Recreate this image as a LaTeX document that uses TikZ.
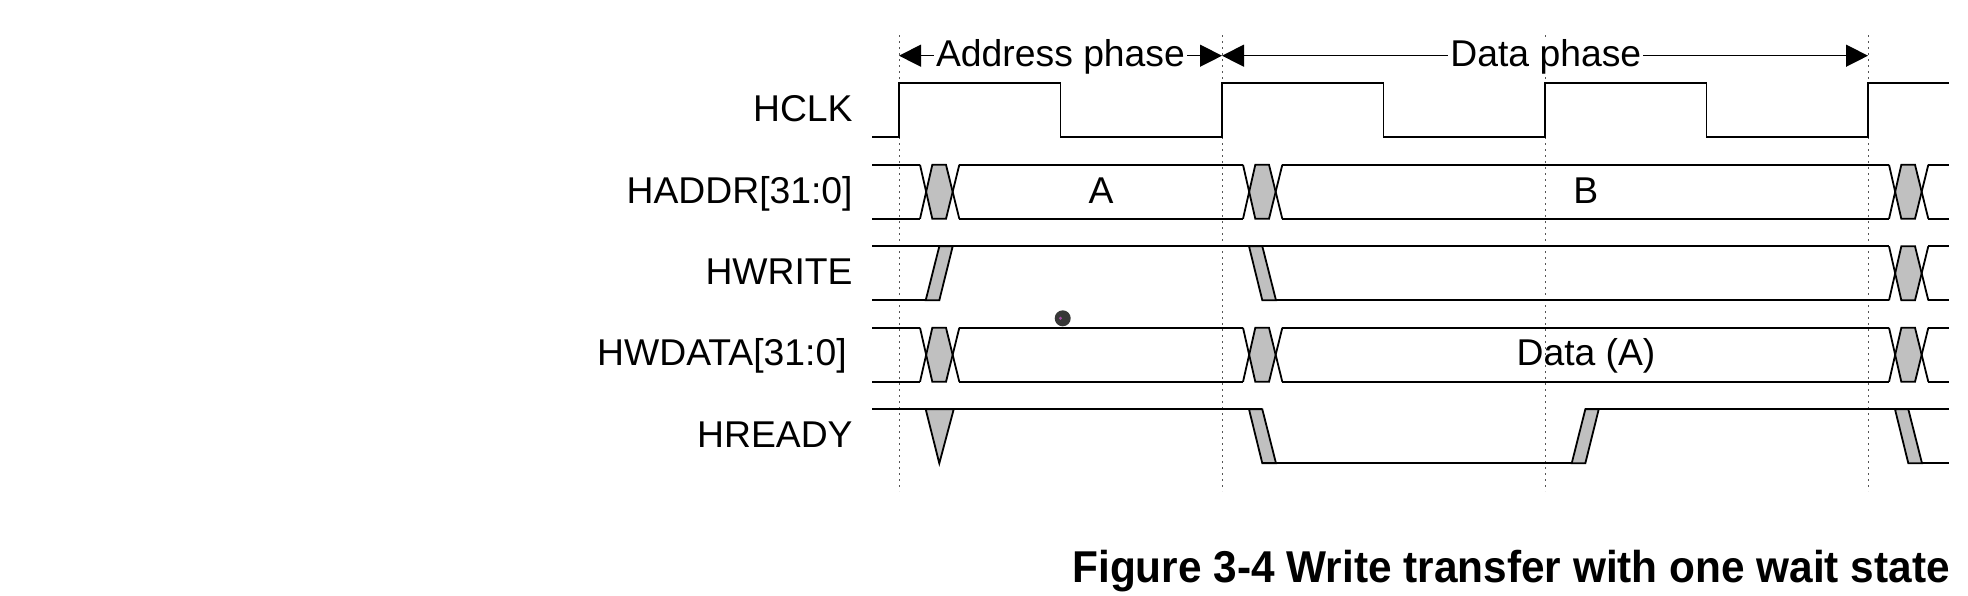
\documentclass[tikz,border=0pt]{standalone}
\usepackage{fontspec}
\usepackage{graphicx}
\setmainfont{Liberation Sans}
\usetikzlibrary{arrows.meta}
\definecolor{trgray}{HTML}{C0C0C0}
\definecolor{dotgray}{HTML}{555555}
\newcommand{\busX}[3]{%
  \fill[trgray] ({#1+27.15},{(#2+#3)/2}) -- ({#1+33.3},#2) -- ({#1+47},#2) -- ({#1+53.6},{(#2+#3)/2}) -- ({#1+47},#3) -- ({#1+33.3},#3) -- cycle;
  \draw[sig] ({#1+21},#2) -- ({#1+33.3},#3) -- ({#1+47},#3) -- ({#1+60.3},#2);
  \draw[sig] ({#1+21},#3) -- ({#1+33.3},#2) -- ({#1+47},#2) -- ({#1+60.3},#3);
}
\newcommand{\riseQ}[3]{% r, top, bottom
  \filldraw[sig,fill=trgray] ({#1+26.7},#3) -- ({#1+40.3},#2) -- ({#1+53.7},#2) -- ({#1+40.3},#3) -- cycle;
}
\newcommand{\fallQ}[3]{% r, top, bottom
  \filldraw[sig,fill=trgray] ({#1+27},#2) -- ({#1+40.3},#2) -- ({#1+54},#3) -- ({#1+40.3},#3) -- cycle;
}
\begin{document}
\begin{tikzpicture}[x=0.5pt,y=-0.5pt,
  sig/.style={line width=0.9pt,line join=miter},
  lbl/.style={anchor=base east,inner sep=0pt,font=\fontsize{18.65}{22}\selectfont},
  val/.style={anchor=base,inner sep=0pt,font=\fontsize{18.65}{22}\selectfont},
  phase/.style={anchor=base,inner xsep=1pt,inner ysep=0pt,fill=white,font=\fontsize{18.65}{22}\selectfont},
  grid/.style={dotgray,line width=0.5pt,dash pattern=on 1pt off 2pt},
  parrow/.style={line width=0.65pt,{Triangle[length=11pt,width=11pt]}-{Triangle[length=11pt,width=11pt]}}]
\useasboundingbox (0,0) rectangle (1968,595);
% dotted grid lines
\foreach \r in {899,1222,1545,1868}
  \draw[grid] (\r,35) -- (\r,491);
% phase arrows
\coordinate (p0) at (899,55.7);
\coordinate (p1) at (1222,55.7);
\coordinate (p2) at (1868,55.7);
\draw[parrow] (p0) -- (p1);
\draw[parrow] (p1) -- (p2);
\node[phase] (addrphase) at (1060.5,66.7) {Address phase};
\node[phase] (dataphase) at (1545.8,66.7) {Data phase};
% labels
\node[lbl] (lclk) at (853,121.5) {HCLK};
\node[lbl] (laddr) at (853,203) {HADDR[31:0]};
\node[lbl] (lwrite) at (853,284.5) {HWRITE};
\node[lbl] (lwdata) at (847,365.5) {HWDATA[31:0]};
\node[lbl] (lready) at (853,447.3) {HREADY};
% HCLK
\draw[sig] (872,137.3) -- (899,137.3) -- (899,83.3) -- (1060.5,83.3) -- (1060.5,137.3) -- (1222,137.3) -- (1222,83.3) -- (1383.5,83.3) -- (1383.5,137.3) -- (1545,137.3) -- (1545,83.3) -- (1706.5,83.3) -- (1706.5,137.3) -- (1868,137.3) -- (1868,83.3) -- (1949,83.3);
% HADDR
\foreach \yy in {164.8,218.8} {
  \draw[sig] (872,\yy) -- (920,\yy);
  \draw[sig] (959.3,\yy) -- (1243,\yy);
  \draw[sig] (1282.3,\yy) -- (1889,\yy);
  \draw[sig] (1928.3,\yy) -- (1949,\yy);
}
\busX{899}{164.8}{218.8}
\busX{1222}{164.8}{218.8}
\busX{1868}{164.8}{218.8}
\node[val] (va) at (1101,203) {A};
\node[val] (vb) at (1585.8,203) {B};
% HWRITE
\draw[sig] (872,246.3) -- (1889,246.3);
\draw[sig] (1928.3,246.3) -- (1949,246.3);
\draw[sig] (872,300.3) -- (925.7,300.3);
\draw[sig] (1276,300.3) -- (1889,300.3);
\draw[sig] (1928.3,300.3) -- (1949,300.3);
\riseQ{899}{246.3}{300.3}
\fallQ{1222}{246.3}{300.3}
\busX{1868}{246.3}{300.3}
% HWDATA
\foreach \yy in {327.8,381.8} {
  \draw[sig] (872,\yy) -- (920,\yy);
  \draw[sig] (959.3,\yy) -- (1243,\yy);
  \draw[sig] (1282.3,\yy) -- (1889,\yy);
  \draw[sig] (1928.3,\yy) -- (1949,\yy);
}
\busX{899}{327.8}{381.8}
\busX{1222}{327.8}{381.8}
\busX{1868}{327.8}{381.8}
\node[val] (vd) at (1586,365) {Data (A)};
% HREADY
\filldraw[sig,fill=trgray] (925.7,409.3) -- (939.3,463.3) -- (953.7,409.3) -- cycle;
\draw[sig] (872,409.3) -- (1262.3,409.3);
\fallQ{1222}{409.3}{463.3}
\draw[sig] (1262.3,463.3) -- (1571.7,463.3);
\riseQ{1545}{409.3}{463.3}
\draw[sig] (1585.3,409.3) -- (1949,409.3);
\fallQ{1868}{409.3}{463.3}
\draw[sig] (1922,463.3) -- (1949,463.3);
% overlay dot
\fill[black!78] (1062.7,318.3) circle (8);
\fill[violet!70] (1060.5,318.3) circle (1.6);
% caption
\node[anchor=base west,inner sep=0pt] (caption) at (1072,582.7)
  {\scalebox{0.95}[1]{\fontsize{22.3}{26}\selectfont\bfseries Figure 3-4 Write transfer with one wait state}};
\end{tikzpicture}
\end{document}
